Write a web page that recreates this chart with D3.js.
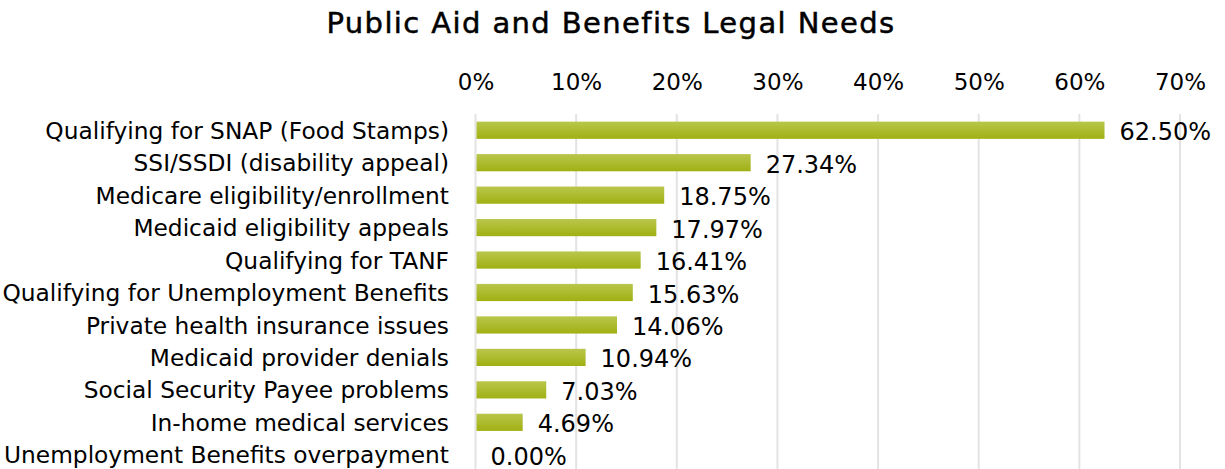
<!DOCTYPE html>
<html>
<head>
<meta charset="utf-8">
<script src="https://cdn.jsdelivr.net/npm/d3@7"></script>
<style>
  html, body { margin: 0; padding: 0; background: #fff; }
  svg { display: block; }
</style>
</head>
<body>
<svg id="chart" width="1225" height="469"></svg>
<script>
// Share of respondents reporting each public aid / benefits legal need
const categories = [
  "Qualifying for SNAP (Food Stamps)",
  "SSI/SSDI (disability appeal)",
  "Medicare eligibility/enrollment",
  "Medicaid eligibility appeals",
  "Qualifying for TANF",
  "Qualifying for Unemployment Benefits",
  "Private health insurance issues",
  "Medicaid provider denials",
  "Social Security Payee problems",
  "In-home medical services",
  "Unemployment Benefits overpayment"
];
const values = [62.50, 27.34, 18.75, 17.97, 16.41, 15.63, 14.06, 10.94, 7.03, 4.69, 0.00];
const tickValues = [0, 10, 20, 30, 40, 50, 60, 70];
const titleText = "Public Aid and Benefits Legal Needs";

const svg = d3.select("#chart");
const font = "'DejaVu Sans', Verdana, sans-serif";

const x = d3.scaleLinear().domain([0, 70]).range([475.5, 1180]);
const y = d3.scaleBand().domain(categories).range([114, 471]).paddingInner(0.47).paddingOuter(0.235);

// bar fill: light olive on top fading to a deeper olive at the bottom
const defs = svg.append("defs");
const grad = defs.append("linearGradient")
  .attr("id", "barFill").attr("x1", 0).attr("y1", 0).attr("x2", 0).attr("y2", 1);
grad.append("stop").attr("offset", "0%").attr("stop-color", "#b9c64c");
grad.append("stop").attr("offset", "100%").attr("stop-color", "#a0b012");

// title (medium weight, slightly tracked)
svg.append("text")
  .attr("x", 611).attr("y", 33)
  .attr("text-anchor", "middle")
  .style("font-family", font).style("font-size", "29px")
  .style("letter-spacing", "1.4px")
  .style("fill", "#000").style("stroke", "#000").style("stroke-width", "0.5px")
  .text(titleText);

// top axis with full-height gridlines
const axis = d3.axisTop(x).tickValues(tickValues).tickFormat(d => d + "%").tickSize(0).tickPadding(0);
const gAxis = svg.append("g").call(axis);
gAxis.select(".domain").remove();
gAxis.selectAll("text")
  .attr("y", 90).attr("dy", null)
  .style("font-family", font).style("font-size", "23px").style("fill", "#000");

svg.append("g").selectAll("line").data(tickValues).join("line")
  .attr("x1", d => x(d)).attr("x2", d => x(d))
  .attr("y1", 114).attr("y2", 469)
  .attr("stroke", "#e3e3e3").attr("stroke-width", 2);

// bars
svg.append("g").selectAll("rect").data(values).join("rect")
  .attr("x", x(0) + 1)
  .attr("y", (d, i) => y(categories[i]))
  .attr("width", d => Math.max(0, x(d) - x(0) - 1))
  .attr("height", y.bandwidth())
  .attr("fill", "url(#barFill)");

// value labels
svg.append("g").selectAll("text").data(values).join("text")
  .attr("x", d => x(d) + 15)
  .attr("y", (d, i) => y(categories[i]) + y.bandwidth() / 2)
  .attr("dy", "0.42em")
  .style("font-family", font).style("font-size", "24px").style("fill", "#000")
  .text(d => d.toFixed(2) + "%");

// category labels
svg.append("g").selectAll("text").data(categories).join("text")
  .attr("x", 449)
  .attr("y", d => y(d) + y.bandwidth() / 2)
  .attr("dy", "0.37em")
  .attr("text-anchor", "end")
  .style("font-family", font).style("font-size", "23.3px").style("fill", "#000")
  .text(d => d);
</script>
</body>
</html>
